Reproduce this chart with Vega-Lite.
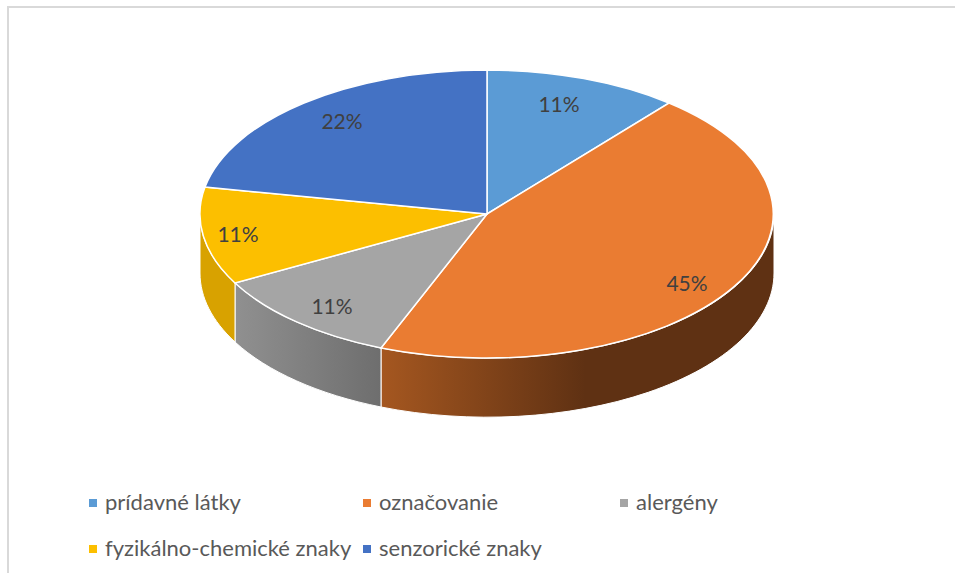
{
"$schema":"https://vega.github.io/schema/vega-lite/v6.json",
"width":950,"height":570,"padding":{"left":8,"top":7,"right":0,"bottom":0},"autosize":{"type":"none"},
"background":"#ffffff",
"view":{"stroke":"#d9d9d9","strokeWidth":2,"fill":"#ffffff"},
"config":{"font":"Lato"},
"datasets":{"slices":[
{"kategoria":"prídavné látky","podiel":0.11},
{"kategoria":"označovanie","podiel":0.45},
{"kategoria":"alergény","podiel":0.11},
{"kategoria":"fyzikálno-chemické znaky","podiel":0.11},
{"kategoria":"senzorické znaky","podiel":0.22}
]
},
"layer":[
{"data":{"name":"slices"},"transform":[{"filter":"datum.kategoria=='označovanie'"}],
 "mark":{"type":"point","filled":true,"size":4,"opacity":1,"xOffset":4,"yOffset":-78,"stroke":"#ffffff","strokeWidth":1,
  "shape":"M287,0 V59 A287,144 0 0 1 -106,193 V134 A287,144 0 0 0 287,0 Z",
  "fill":{"gradient":"linear","x1":0,"x2":1,"y1":0,"y2":0,"stops":[{"offset":0,"color":"#a55720"},{"offset":0.52,"color":"#5f3113"},{"offset":1,"color":"#5f3113"}]}},
 "encoding":{}},
{"data":{"name":"slices"},"transform":[{"filter":"datum.kategoria=='alergény'"}],
 "mark":{"type":"point","filled":true,"size":4,"opacity":1,"xOffset":4,"yOffset":-78,"stroke":"#ffffff","strokeWidth":1,
  "shape":"M-252,69 V128 A287,144 0 0 0 -106,193 V134 A287,144 0 0 1 -252,69 Z",
  "fill":{"gradient":"linear","x1":0,"x2":1,"y1":0,"y2":0,"stops":[{"offset":0,"color":"#909090"},{"offset":1,"color":"#6e6e6e"}]}},
 "encoding":{}},
{"data":{"name":"slices"},"transform":[{"filter":"datum.kategoria=='fyzikálno-chemické znaky'"}],
 "mark":{"type":"point","filled":true,"size":4,"opacity":1,"xOffset":4,"yOffset":-78,"stroke":"#ffffff","strokeWidth":1,
  "shape":"M-287,0 V59 A287,144 0 0 0 -252,128 V69 A287,144 0 0 1 -287,0 Z",
  "fill":"#d8a200"},
 "encoding":{}},
{"data":{"name":"slices"},
 "mark":{"type":"point","filled":true,"size":4,"opacity":1,"xOffset":4,"yOffset":-78,"stroke":"#ffffff","strokeWidth":1.5},
 "encoding":{
  "color":{"field":"kategoria","type":"nominal","sort":null,
   "scale":{"domain":["prídavné látky","označovanie","alergény","fyzikálno-chemické znaky","senzorické znaky"],"range":["#5b9bd5","#ea7c32","#a5a5a5","#fcbf00","#4472c4"]},
   "legend":{"title":null,"orient":"none","direction":"horizontal","legendX":74,"legendY":485,"columns":3,"columnPadding":4,"rowPadding":24,"symbolType":"square","symbolSize":64,"symbolStrokeWidth":0,"labelFontSize":22,"labelColor":"#595959","labelOffset":1,"labelLimit":400,
   "labelExpr":"datum.label=='senzorické znaky' ? datum.label+'\u00a0\u00a0\u00a0\u00a0\u00a0\u00a0\u00a0\u00a0\u00a0\u00a0\u00a0\u00a0\u200b' : datum.label"}},
  "shape":{"field":"kategoria","type":"nominal","legend":null,
   "scale":{"domain":["senzorické znaky","fyzikálno-chemické znaky","alergény","označovanie","prídavné látky"],
   "range":[
    "M0,0 L-282,-27 A287,144 0 0 1 0,-144 Z",
    "M0,0 L-252,69 A287,144 0 0 1 -282,-27 Z",
    "M0,0 L-106,134 A287,144 0 0 1 -252,69 Z",
    "M0,0 L182,-111 A287,144 0 0 1 -106,134 Z",
    "M0,0 V-144 A287,144 0 0 1 182,-111 Z"]}}
 }},
{"data":{"name":"slices"},"transform":[{"filter":"datum.kategoria=='prídavné látky'"}],
 "mark":{"type":"text","fontSize":21,"font":"Lato","color":"#404040","dx":76,"dy":-186},
 "encoding":{"text":{"field":"podiel","type":"quantitative","format":".0%"}}},
{"data":{"name":"slices"},"transform":[{"filter":"datum.kategoria=='označovanie'"}],
 "mark":{"type":"text","fontSize":21,"font":"Lato","color":"#404040","dx":204,"dy":-7},
 "encoding":{"text":{"field":"podiel","type":"quantitative","format":".0%"}}},
{"data":{"name":"slices"},"transform":[{"filter":"datum.kategoria=='alergény'"}],
 "mark":{"type":"text","fontSize":21,"font":"Lato","color":"#404040","dx":-151,"dy":16},
 "encoding":{"text":{"field":"podiel","type":"quantitative","format":".0%"}}},
{"data":{"name":"slices"},"transform":[{"filter":"datum.kategoria=='fyzikálno-chemické znaky'"}],
 "mark":{"type":"text","fontSize":21,"font":"Lato","color":"#404040","dx":-245,"dy":-56},
 "encoding":{"text":{"field":"podiel","type":"quantitative","format":".0%"}}},
{"data":{"name":"slices"},"transform":[{"filter":"datum.kategoria=='senzorické znaky'"}],
 "mark":{"type":"text","fontSize":21,"font":"Lato","color":"#404040","dx":-141,"dy":-169},
 "encoding":{"text":{"field":"podiel","type":"quantitative","format":".0%"}}}
]
}
